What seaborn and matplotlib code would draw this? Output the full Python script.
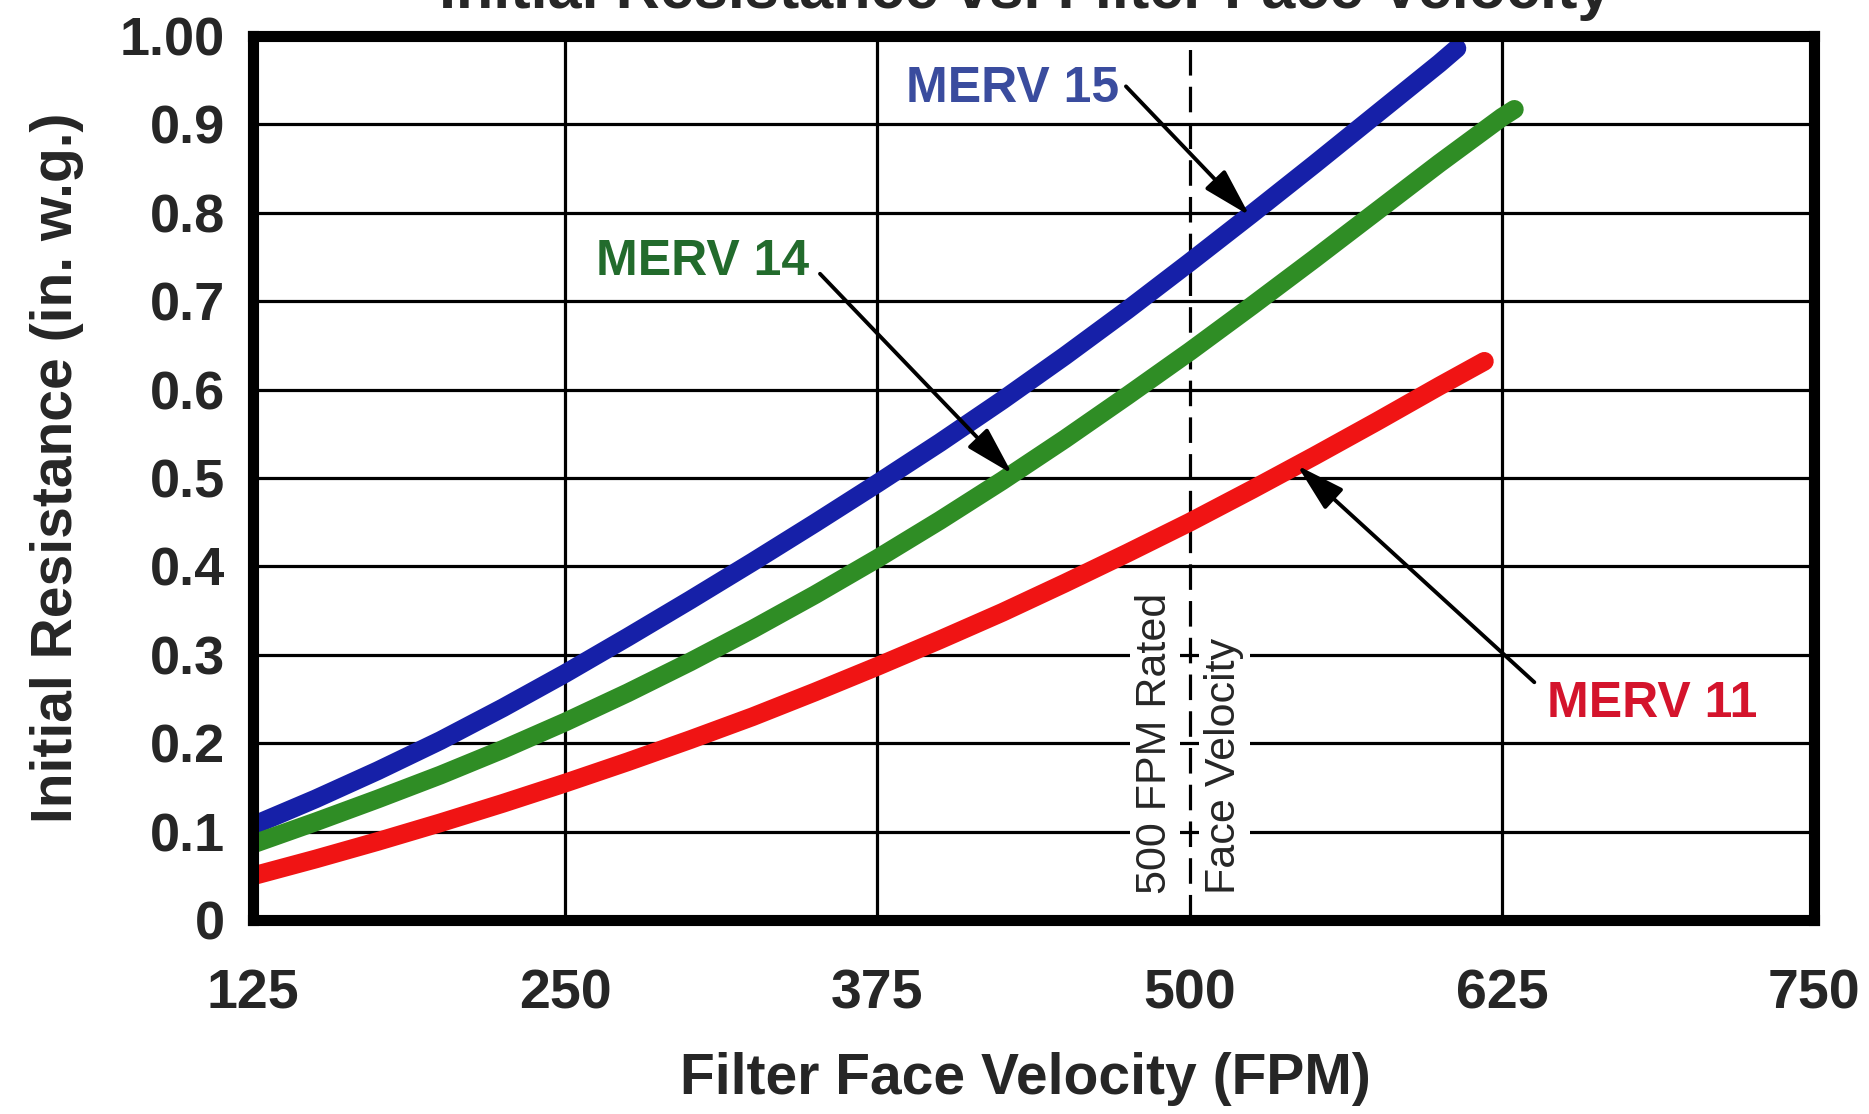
import numpy as np
import pandas as pd
import matplotlib
matplotlib.use("Agg")
import matplotlib.pyplot as plt
from matplotlib import font_manager
import seaborn as sns

# Initial resistance (in. w.g.) versus filter face velocity (FPM)
merv15_fpm = [125, 150, 175, 200, 225, 250, 275, 300, 325, 350, 375, 400,
              425, 450, 475, 500, 525, 550, 575, 600, 607]
merv15_res = [0.107, 0.137, 0.169, 0.203, 0.240, 0.279, 0.320, 0.362, 0.405,
              0.449, 0.494, 0.540, 0.588, 0.638, 0.690, 0.744, 0.799, 0.855,
              0.912, 0.969, 0.986]

merv14_fpm = [125, 150, 175, 200, 225, 250, 275, 300, 325, 350, 375, 400,
              425, 450, 475, 500, 525, 550, 575, 600, 625, 630]
merv14_res = [0.086, 0.111, 0.137, 0.164, 0.193, 0.224, 0.257, 0.292, 0.329,
              0.368, 0.409, 0.452, 0.497, 0.544, 0.593, 0.643, 0.695, 0.748,
              0.802, 0.856, 0.908, 0.917]

merv11_fpm = [125, 150, 175, 200, 225, 250, 275, 300, 325, 350, 375, 400,
              425, 450, 475, 500, 525, 550, 575, 600, 618]
merv11_res = [0.050, 0.069, 0.089, 0.110, 0.132, 0.155, 0.179, 0.204, 0.230,
              0.258, 0.287, 0.317, 0.348, 0.381, 0.415, 0.450, 0.487, 0.525,
              0.564, 0.604, 0.632]

series_names = ["MERV 15", "MERV 14", "MERV 11"]
x_ticks = [125, 250, 375, 500, 625, 750]
y_ticks = [0, 0.1, 0.2, 0.3, 0.4, 0.5, 0.6, 0.7, 0.8, 0.9, 1.0]
y_tick_labels = ["0", "0.1", "0.2", "0.3", "0.4", "0.5", "0.6", "0.7",
                 "0.8", "0.9", "1.00"]
rated_fpm = 500

line_colors = {"MERV 15": "#1620a8", "MERV 14": "#2f8d25", "MERV 11": "#f01414"}
label_colors = {"MERV 15": "#3a4c9e", "MERV 14": "#226b2c", "MERV 11": "#d4142c"}

sns.set_theme(style="white")
installed = {f.name for f in font_manager.fontManager.ttflist}
main_font = "Liberation Sans Narrow" if "Liberation Sans Narrow" in installed else "Liberation Sans"
plt.rcParams["font.family"] = [main_font, "DejaVu Sans"]

frames = [
    pd.DataFrame({"fpm": merv15_fpm, "res": merv15_res, "rating": "MERV 15"}),
    pd.DataFrame({"fpm": merv14_fpm, "res": merv14_res, "rating": "MERV 14"}),
    pd.DataFrame({"fpm": merv11_fpm, "res": merv11_res, "rating": "MERV 11"}),
]
df = pd.concat(frames, ignore_index=True)

fig = plt.figure(figsize=(18.69, 11.14), dpi=100)
fig.patch.set_facecolor("white")
ax = fig.add_axes([0.1354, 0.1741, 0.8352, 0.7936])
ax.set_facecolor("white")

sns.lineplot(data=df, x="fpm", y="res", hue="rating", hue_order=series_names,
             palette=line_colors, linewidth=13.5, legend=False, ax=ax,
             solid_capstyle="round", solid_joinstyle="round", zorder=5)

ax.set_xlim(125, 750)
ax.set_ylim(0, 1.0)

# grid: horizontal at every tick, vertical at every tick except the rated velocity
for yv in y_ticks[1:-1]:
    ax.axhline(yv, color="black", lw=2.3, zorder=1)
for xv in x_ticks[1:-1]:
    if xv != rated_fpm:
        ax.axvline(xv, color="black", lw=2.3, zorder=1)
ax.axvline(rated_fpm, color="black", lw=2.3, linestyle=(0, (8, 3.5)), zorder=3)

text_box = dict(boxstyle="square,pad=0.12", fc="white", ec="none")
ax.annotate("500 FPM Rated", xy=(rated_fpm, 0.03), xytext=(-25, 0),
            textcoords="offset points", rotation=90, ha="center", va="bottom",
            fontsize=31, bbox=text_box, zorder=2)
ax.annotate("Face Velocity", xy=(rated_fpm, 0.03), xytext=(25, 0),
            textcoords="offset points", rotation=90, ha="center", va="bottom",
            fontsize=31, bbox=text_box, zorder=2)

for sp in ax.spines.values():
    sp.set_visible(True)
    sp.set_color("black")
    sp.set_linewidth(8)
    sp.set_zorder(6)

ax.set_xticks(x_ticks)
ax.set_xticklabels([str(v) for v in x_ticks], fontsize=40, fontweight="bold")
ax.set_yticks(y_ticks)
ax.set_yticklabels(y_tick_labels, fontsize=39, fontweight="bold")
ax.tick_params(axis="x", length=0, pad=35)
ax.tick_params(axis="y", length=0, pad=20)

ax.set_xlabel("Filter Face Velocity (FPM)", fontsize=41, fontweight="bold", va="center")
ax.set_ylabel("Initial Resistance (in. w.g.)", fontsize=41, fontweight="bold", va="center")
ax.xaxis.set_label_coords(0.4946, -0.18)
ax.yaxis.set_label_coords(-0.1256, 0.512)

fig.text(0.5485, 1 - 8 / 1114, "Initial Resistance vs. Filter Face Velocity",
         ha="center", va="baseline", fontsize=44, fontweight="bold")

# callouts: label text plus an arrow onto the curve
curves = {
    "MERV 15": (merv15_fpm, merv15_res),
    "MERV 14": (merv14_fpm, merv14_res),
    "MERV 11": (merv11_fpm, merv11_res),
}
callouts = {
    "MERV 15": dict(text_at=(429, 0.940), tail=(474.5, 0.943), tip_fpm=524),
    "MERV 14": dict(text_at=(305, 0.744), tail=(352, 0.731), tip_fpm=429),
    "MERV 11": dict(text_at=(685, 0.244), tail=(638, 0.269), tip_fpm=543),
}
for name, c in callouts.items():
    xs, ys = curves[name]
    tip = (c["tip_fpm"], float(np.interp(c["tip_fpm"], xs, ys)))
    ax.annotate("", xy=tip, xytext=c["tail"],
                arrowprops=dict(arrowstyle="-|>,head_length=1.5,head_width=0.42",
                                color="black", lw=2.8, mutation_scale=20,
                                shrinkA=0, shrinkB=0),
                zorder=7)
    ax.text(*c["text_at"], name, color=label_colors[name], fontsize=36,
            fontweight="bold", ha="center", va="center", zorder=7)

fig.savefig("out.png", dpi=100, facecolor="white")
